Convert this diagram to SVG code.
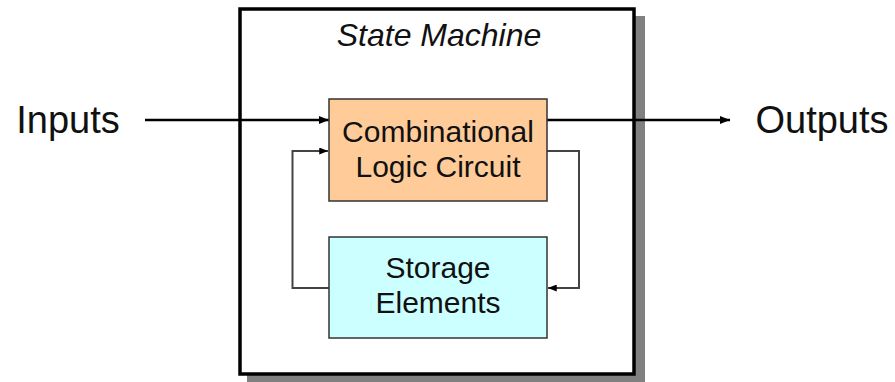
<svg xmlns="http://www.w3.org/2000/svg" width="895" height="382" viewBox="0 0 895 382">
<defs>
<marker id="ah" viewBox="0 0 10 8" refX="10" refY="4" markerWidth="10" markerHeight="8" markerUnits="userSpaceOnUse" orient="auto">
<path d="M0,0 L10,4 L0,8 z" fill="#000"/>
</marker>
<marker id="ahs" viewBox="0 0 10 8" refX="10" refY="4" markerWidth="9" markerHeight="7" markerUnits="userSpaceOnUse" orient="auto">
<path d="M0,0 L10,4 L0,8 z" fill="#000"/>
</marker>
</defs>
<style>
text{font-family:"Liberation Sans",Arial,sans-serif;fill:#111;text-anchor:middle}
.big{font-size:38px}
.mid{font-size:30px}
.box{stroke:#333;stroke-width:1.5}
.main{stroke:#000;stroke-width:2.5;fill:none}
.fb{stroke:#444;stroke-width:2;fill:none}
</style>
<rect width="895" height="382" fill="#fff"/>
<g id="state-machine">
<rect x="247" y="16" width="398" height="366" fill="#808080"/>
<rect x="240" y="9" width="394" height="365" fill="#fff" stroke="#000" stroke-width="3.5"/>
<text x="439" y="46" font-size="32" font-style="italic">State Machine</text>
</g>
<g id="inputs"><text class="big" x="68" y="133">Inputs</text></g>
<g id="outputs"><text class="big" x="822" y="133">Outputs</text></g>
<g id="connectors">
<line class="main" x1="145" y1="120" x2="329" y2="120" marker-end="url(#ah)"/>
<line class="main" x1="547" y1="120" x2="730" y2="120" marker-end="url(#ah)"/>
<polyline class="fb" points="329,288 292.5,288 292.5,151 328,151" marker-end="url(#ahs)"/>
<polyline class="fb" points="547,151 579,151 579,288 548,288" marker-end="url(#ahs)"/>
</g>
<g id="comb">
<rect class="box" x="329" y="99" width="218" height="102" fill="#FFCC99"/>
<text class="mid" x="438" y="142">Combinational</text>
<text class="mid" x="438" y="177">Logic Circuit</text>
</g>
<g id="storage">
<rect class="box" x="329" y="237" width="218" height="101" fill="#CCFFFF"/>
<text class="mid" x="438" y="278">Storage</text>
<text class="mid" x="438" y="313">Elements</text>
</g>
</svg>
